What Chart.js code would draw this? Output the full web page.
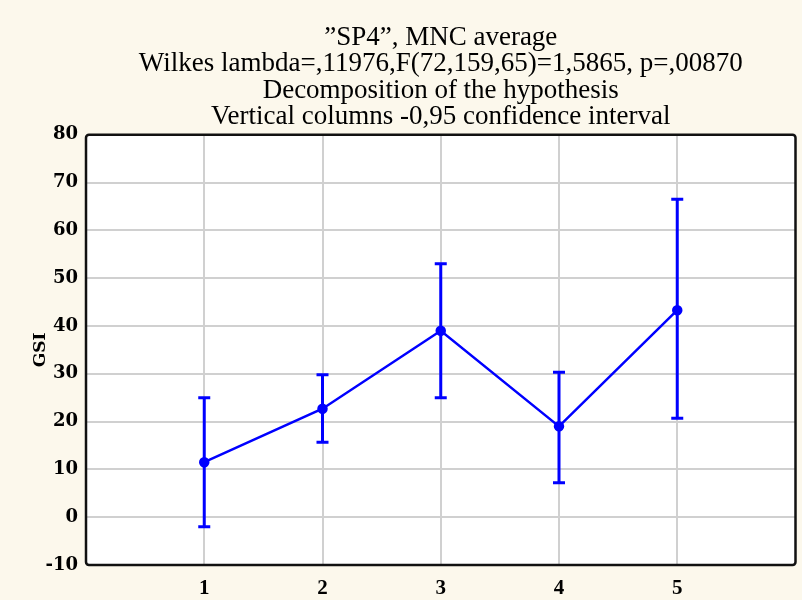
<!DOCTYPE html>
<html><head><meta charset="utf-8">
<script src="https://cdn.jsdelivr.net/npm/chart.js@4/dist/chart.umd.min.js"></script>
<style>html,body{margin:0;padding:0;background:#fcf8ec;}#wrap{width:802px;height:600px;}</style>
</head><body><div id="wrap"><canvas id="c" width="802" height="600"></canvas></div>
<script>
const categories = [1, 2, 3, 4, 5];
const means = [11.5, 22.7, 39, 19, 43.3];
const upper = [25, 29.8, 53, 30.3, 66.5];
const lower = [-2, 15.7, 25, 7.2, 20.7];
const yTickValues = [-10, 0, 10, 20, 30, 40, 50, 60, 70, 80];
const titleLines = [
  '\u201dSP4\u201d, MNC average',
  'Wilkes lambda=,11976,F(72,159,65)=1,5865, p=,00870',
  'Decomposition of the hypothesis',
  'Vertical columns -0,95 confidence interval'
];
const yAxisTitle = 'GSI';

const bgPlugin = {
  id: 'bg',
  beforeDraw(chart) {
    const {ctx, chartArea: a} = chart;
    ctx.save();
    ctx.fillStyle = '#fcf8ec';
    ctx.fillRect(0, 0, chart.width, chart.height);
    ctx.fillStyle = '#ffffff';
    ctx.fillRect(a.left, a.top, a.right - a.left, a.bottom - a.top);
    ctx.restore();
  },
  afterDatasetsDraw(chart) {
    const {ctx, scales: {x, y}} = chart;
    ctx.save();
    ctx.strokeStyle = '#0000ff';
    ctx.lineWidth = 3;
    categories.forEach((c, i) => {
      const px = x.getPixelForValue(c);
      const pu = y.getPixelForValue(upper[i]);
      const pl = y.getPixelForValue(lower[i]);
      ctx.beginPath();
      ctx.moveTo(px, pu); ctx.lineTo(px, pl);
      ctx.moveTo(px - 6, pu); ctx.lineTo(px + 6, pu);
      ctx.moveTo(px - 6, pl); ctx.lineTo(px + 6, pl);
      ctx.stroke();
    });
    ctx.restore();
  },
  afterDraw(chart) {
    const {ctx, chartArea: a} = chart;
    ctx.save();
    ctx.strokeStyle = '#111';
    ctx.lineWidth = 2.5;
    ctx.beginPath();
    if (ctx.roundRect) ctx.roundRect(a.left, a.top, a.right - a.left, a.bottom - a.top, 3);
    else ctx.rect(a.left, a.top, a.right - a.left, a.bottom - a.top);
    ctx.stroke();
    ctx.restore();
  }
};

new Chart(document.getElementById('c'), {
  type: 'scatter',
  data: {
    datasets: [{
      data: categories.map((c, i) => ({x: c, y: means[i]})),
      showLine: true,
      borderColor: '#0000ff',
      backgroundColor: '#0000ff',
      borderWidth: 2.5,
      pointRadius: 4,
      pointBackgroundColor: '#0000ff',
      pointBorderColor: '#0000ff',
      tension: 0
    }]
  },
  options: {
    responsive: false,
    devicePixelRatio: 1,
    animation: false,
    layout: {padding: {left: 0, right: 3, top: 0, bottom: 0}},
    plugins: {
      legend: {display: false},
      tooltip: {enabled: false},
      title: {
        display: true,
        fullSize: false,
        text: titleLines,
        color: '#000',
        font: {family: 'Liberation Serif', size: 27, weight: 'normal', lineHeight: 0.97},
        padding: {top: 25, bottom: 5}
      }
    },
    scales: {
      x: {
        type: 'linear',
        min: 0, max: 6,
        afterFit(s) { s.height = 35; s.paddingLeft = 0; s.paddingRight = 0; },
        afterBuildTicks(s) { s.ticks = [0, ...categories, 6].map(v => ({value: v})); },
        ticks: {
          color: '#000',
          padding: 11,
          font: {family: 'Liberation Serif', size: 21, weight: 'bold'},
          callback: v => categories.includes(v) ? String(v) : ''
        },
        grid: {
          drawTicks: false,
          lineWidth: 2,
          color: c => (c.tick && categories.includes(c.tick.value)) ? '#d0d0d0' : 'rgba(0,0,0,0)'
        },
        border: {display: false}
      },
      y: {
        type: 'linear',
        min: -10, max: 80,
        afterFit(s) { s.width = 86; },
        afterBuildTicks(s) { s.ticks = yTickValues.map(v => ({value: v})); },
        title: {
          display: true,
          text: yAxisTitle,
          color: '#000',
          font: {family: 'DejaVu Serif', size: 17, weight: 'bold'},
          padding: {top: 30, bottom: 0}
        },
        ticks: {
          color: '#000',
          padding: 8,
          font: {family: 'DejaVu Serif', size: 18, weight: 'bold'}
        },
        grid: {drawTicks: false, lineWidth: 2, color: '#d0d0d0'},
        border: {display: false}
      }
    }
  },
  plugins: [bgPlugin]
});
</script></body></html>
